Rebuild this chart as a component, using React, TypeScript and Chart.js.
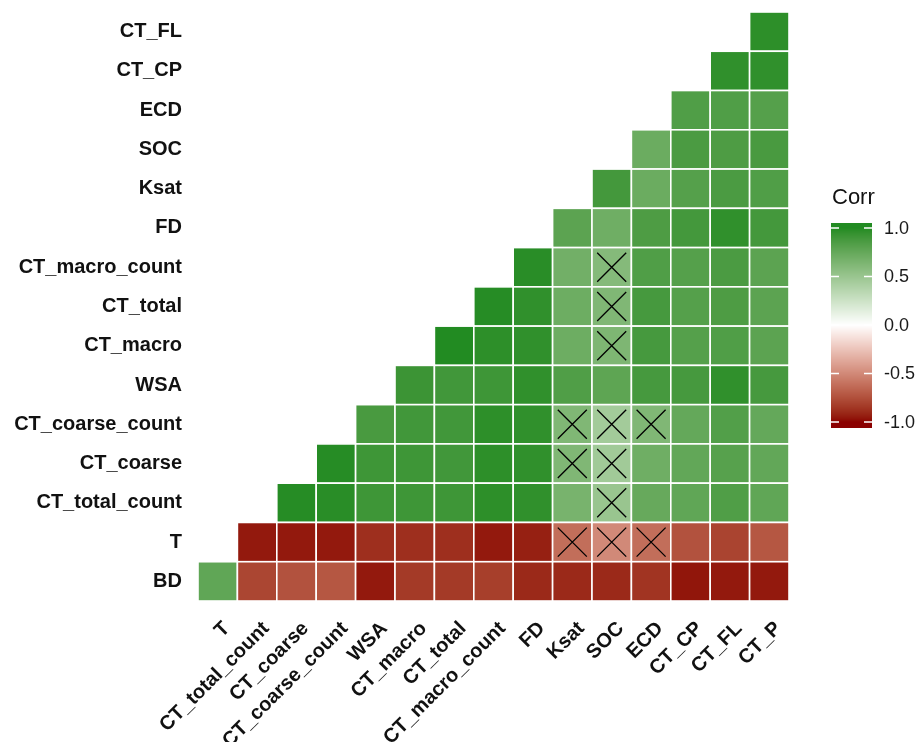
import React, { useEffect, useRef } from "react";
import { Chart, registerables } from "chart.js";
Chart.register(...registerables);

// Column variables (x axis, left to right)
const xLabels = ["T", "CT_total_count", "CT_coarse", "CT_coarse_count", "WSA", "CT_macro", "CT_total", "CT_macro_count", "FD", "Ksat", "SOC", "ECD", "CT_CP", "CT_FL", "CT_P"];
// Row variables (y axis, top to bottom)
const yLabels = ["CT_FL", "CT_CP", "ECD", "SOC", "Ksat", "FD", "CT_macro_count", "CT_total", "CT_macro", "WSA", "CT_coarse_count", "CT_coarse", "CT_total_count", "T", "BD"];

const n = null;
// Correlation values per row, aligned with xLabels (null = not shown)
const rowCT_FL = [n, n, n, n, n, n, n, n, n, n, n, n, n, n, 0.97];
const rowCT_CP = [n, n, n, n, n, n, n, n, n, n, n, n, n, 0.96, 0.96];
const rowECD = [n, n, n, n, n, n, n, n, n, n, n, n, 0.84, 0.84, 0.82];
const rowSOC = [n, n, n, n, n, n, n, n, n, n, n, 0.72, 0.86, 0.85, 0.87];
const rowKsat = [n, n, n, n, n, n, n, n, n, n, 0.89, 0.72, 0.82, 0.86, 0.84];
const rowFD = [n, n, n, n, n, n, n, n, n, 0.79, 0.7, 0.85, 0.89, 0.96, 0.89];
const rowCT_macro_count = [n, n, n, n, n, n, n, n, 0.98, 0.69, 0.6, 0.84, 0.82, 0.86, 0.79];
const rowCT_total = [n, n, n, n, n, n, n, 0.99, 0.96, 0.71, 0.62, 0.88, 0.82, 0.85, 0.79];
const rowCT_macro = [n, n, n, n, n, n, 1.0, 0.97, 0.96, 0.71, 0.63, 0.88, 0.82, 0.84, 0.79];
const rowWSA = [n, n, n, n, n, 0.92, 0.9, 0.91, 0.96, 0.84, 0.78, 0.88, 0.88, 0.96, 0.88];
const rowCT_coarse_count = [n, n, n, n, 0.87, 0.9, 0.9, 0.97, 0.96, 0.62, 0.45, 0.62, 0.75, 0.83, 0.75];
const rowCT_coarse = [n, n, n, 0.99, 0.91, 0.91, 0.9, 0.97, 0.96, 0.62, 0.46, 0.7, 0.76, 0.81, 0.76];
const rowCT_total_count = [n, n, 0.99, 0.98, 0.91, 0.91, 0.91, 0.97, 0.96, 0.66, 0.5, 0.74, 0.77, 0.84, 0.77];
const rowT = [n, -0.95, -0.95, -0.95, -0.88, -0.88, -0.88, -0.95, -0.93, -0.62, -0.5, -0.62, -0.74, -0.8, -0.72];
const rowBD = [0.77, -0.79, -0.74, -0.72, -0.95, -0.84, -0.84, -0.82, -0.9, -0.9, -0.9, -0.86, -0.96, -0.95, -0.95];

const rows = [rowCT_FL, rowCT_CP, rowECD, rowSOC, rowKsat, rowFD, rowCT_macro_count, rowCT_total, rowCT_macro, rowWSA, rowCT_coarse_count, rowCT_coarse, rowCT_total_count, rowT, rowBD];

// Non-significant pairs [row, column], marked with a cross
const insignificant = [
  ["T", "Ksat"], ["T", "SOC"], ["T", "ECD"],
  ["CT_total_count", "SOC"],
  ["CT_coarse", "Ksat"], ["CT_coarse", "SOC"],
  ["CT_coarse_count", "Ksat"], ["CT_coarse_count", "SOC"], ["CT_coarse_count", "ECD"],
  ["CT_macro", "SOC"], ["CT_total", "SOC"], ["CT_macro_count", "SOC"],
];

const legendTicks = [1.0, 0.5, 0.0, -0.5, -1.0];

// ---- colour: Lab interpolation like ggplot2's gradient2 ----
function hexToRgb(h: string) {
  const v = parseInt(h.slice(1), 16);
  return [(v >> 16) & 255, (v >> 8) & 255, v & 255];
}
function rgbToLab([r, g, b]: number[]) {
  const lin = (c: number) => { c /= 255; return c <= 0.04045 ? c / 12.92 : Math.pow((c + 0.055) / 1.055, 2.4); };
  const R = lin(r), G = lin(g), B = lin(b);
  const X = (R * 0.4124 + G * 0.3576 + B * 0.1805) / 0.95047;
  const Y = R * 0.2126 + G * 0.7152 + B * 0.0722;
  const Z = (R * 0.0193 + G * 0.1192 + B * 0.9505) / 1.08883;
  const f = (t: number) => (t > 0.008856 ? Math.cbrt(t) : 7.787 * t + 16 / 116);
  const fx = f(X), fy = f(Y), fz = f(Z);
  return [116 * fy - 16, 500 * (fx - fy), 200 * (fy - fz)];
}
function labToRgb([L, a, b]: number[]) {
  const fy = (L + 16) / 116, fx = fy + a / 500, fz = fy - b / 200;
  const inv = (t: number) => (t * t * t > 0.008856 ? t * t * t : (t - 16 / 116) / 7.787);
  const X = inv(fx) * 0.95047, Y = inv(fy), Z = inv(fz) * 1.08883;
  const R = X * 3.2406 + Y * -1.5372 + Z * -0.4986;
  const G = X * -0.9689 + Y * 1.8758 + Z * 0.0415;
  const B = X * 0.0557 + Y * -0.204 + Z * 1.057;
  const g = (c: number) => {
    c = c <= 0.0031308 ? 12.92 * c : 1.055 * Math.pow(c, 1 / 2.4) - 0.055;
    return Math.max(0, Math.min(255, Math.round(c * 255)));
  };
  return [g(R), g(G), g(B)];
}
const LOW = rgbToLab(hexToRgb("#8B0000"));
const MID = rgbToLab(hexToRgb("#FFFFFF"));
const HIGH = rgbToLab(hexToRgb("#228B22"));
function corrColor(v: number) {
  v = Math.max(-1, Math.min(1, v));
  const b = v < 0 ? LOW : HIGH;
  const t = Math.abs(v);
  const lab = [0, 1, 2].map((i) => MID[i] + (b[i] - MID[i]) * t);
  const [r, g, bb] = labToRgb(lab);
  return `rgb(${r},${g},${bb})`;
}

const FONT = "'Liberation Sans', Arial, sans-serif";

const heatPlugin = {
  id: "heat",
  beforeDatasetsDraw(chart: any) {
    const ctx = chart.ctx;
    const xs = chart.scales.x, ys = chart.scales.y;
    const w = Math.abs(xs.getPixelForValue(1) - xs.getPixelForValue(0));
    const h = Math.abs(ys.getPixelForValue(1) - ys.getPixelForValue(0));
    const meta = chart.getDatasetMeta(0);
    const data = chart.data.datasets[0].data;
    ctx.save();
    meta.data.forEach((el: any, i: number) => {
      const d = data[i];
      ctx.fillStyle = corrColor(d.v);
      ctx.fillRect(el.x - w / 2, el.y - h / 2, w, h);
      ctx.strokeStyle = "#FFFFFF";
      ctx.lineWidth = 1.6;
      ctx.strokeRect(el.x - w / 2, el.y - h / 2, w, h);
    });
    ctx.restore();
  },
  afterDatasetsDraw(chart: any) {
    const ctx = chart.ctx;
    const meta = chart.getDatasetMeta(0);
    const data = chart.data.datasets[0].data;
    ctx.save();
    ctx.strokeStyle = "#000000";
    ctx.lineWidth = 1.3;
    const s = 14.5;
    meta.data.forEach((el: any, i: number) => {
      if (!data[i].cross) return;
      ctx.beginPath();
      ctx.moveTo(el.x - s, el.y - s);
      ctx.lineTo(el.x + s, el.y + s);
      ctx.moveTo(el.x - s, el.y + s);
      ctx.lineTo(el.x + s, el.y - s);
      ctx.stroke();
    });
    ctx.restore();
  },
  afterDraw(chart: any) {
    const ctx = chart.ctx;
    ctx.save();
    ctx.fillStyle = "#111111";
    ctx.font = `22px ${FONT}`;
    ctx.textAlign = "left";
    ctx.textBaseline = "middle";
    ctx.fillText("Corr", 832, 198);
    const x0 = 831, x1 = 872, yTop = 223, yBot = 428;
    const yMid = 325, unit = 97;
    for (let y = yTop; y < yBot; y++) {
      const v = (yMid - (y + 0.5)) / unit;
      ctx.fillStyle = corrColor(v);
      ctx.fillRect(x0, y, x1 - x0, 1);
    }
    ctx.strokeStyle = "#FFFFFF";
    ctx.lineWidth = 1.5;
    ctx.font = `18px ${FONT}`;
    ctx.fillStyle = "#1a1a1a";
    legendTicks.forEach((t) => {
      const y = yMid - t * unit;
      ctx.beginPath();
      ctx.moveTo(x0, y); ctx.lineTo(x0 + 8, y);
      ctx.moveTo(x1 - 8, y); ctx.lineTo(x1, y);
      ctx.stroke();
      ctx.fillText(t.toFixed(1), 884, y + 1);
    });
    ctx.restore();
  },
};

export default function App() {
  const ref = useRef<HTMLCanvasElement>(null);
  useEffect(() => {
    const points: any[] = [];
    rows.forEach((row, r) => {
      row.forEach((v, c) => {
        if (v === null) return;
        const cross = insignificant.some(([a, b]) => a === yLabels[r] && b === xLabels[c]);
        points.push({ x: xLabels[c], y: yLabels[r], v, cross });
      });
    });
    const chart = new Chart(ref.current!, {
      type: "scatter",
      data: {
        datasets: [{ data: points, pointRadius: 0, pointHoverRadius: 0, showLine: false }],
      },
      plugins: [heatPlugin],
      options: {
        animation: false,
        responsive: false,
        events: [],
        layout: { padding: { left: 0, top: 12, right: 134, bottom: 0 } },
        plugins: { legend: { display: false }, tooltip: { enabled: false } },
        scales: {
          x: {
            type: "category",
            labels: xLabels,
            offset: true,
            grid: { display: false, drawTicks: false },
            border: { display: false },
            ticks: {
              autoSkip: false,
              minRotation: 45,
              maxRotation: 45,
              padding: 16,
              labelOffset: 9,
              color: "#111111",
              font: { family: FONT, size: 20, weight: "bold" },
            },
            afterFit: (s: any) => { s.height = 141; s.paddingLeft = 0; s.paddingRight = 0; },
          },
          y: {
            type: "category",
            labels: yLabels,
            offset: true,
            grid: { display: false, drawTicks: false },
            border: { display: false },
            ticks: {
              autoSkip: false,
              padding: 16,
              color: "#111111",
              font: { family: FONT, size: 20, weight: "bold" },
            },
            afterFit: (s: any) => { s.width = 198; s.paddingTop = 0; s.paddingBottom = 0; },
          },
        },
      } as any,
    });
    return () => chart.destroy();
  }, []);
  return (
    <div style={{ position: "fixed", left: 0, top: 0, width: 923, height: 742, background: "#fff" }}>
      <canvas ref={ref} width={923} height={742} style={{ width: 923, height: 742, display: "block" }} />
    </div>
  );
}
